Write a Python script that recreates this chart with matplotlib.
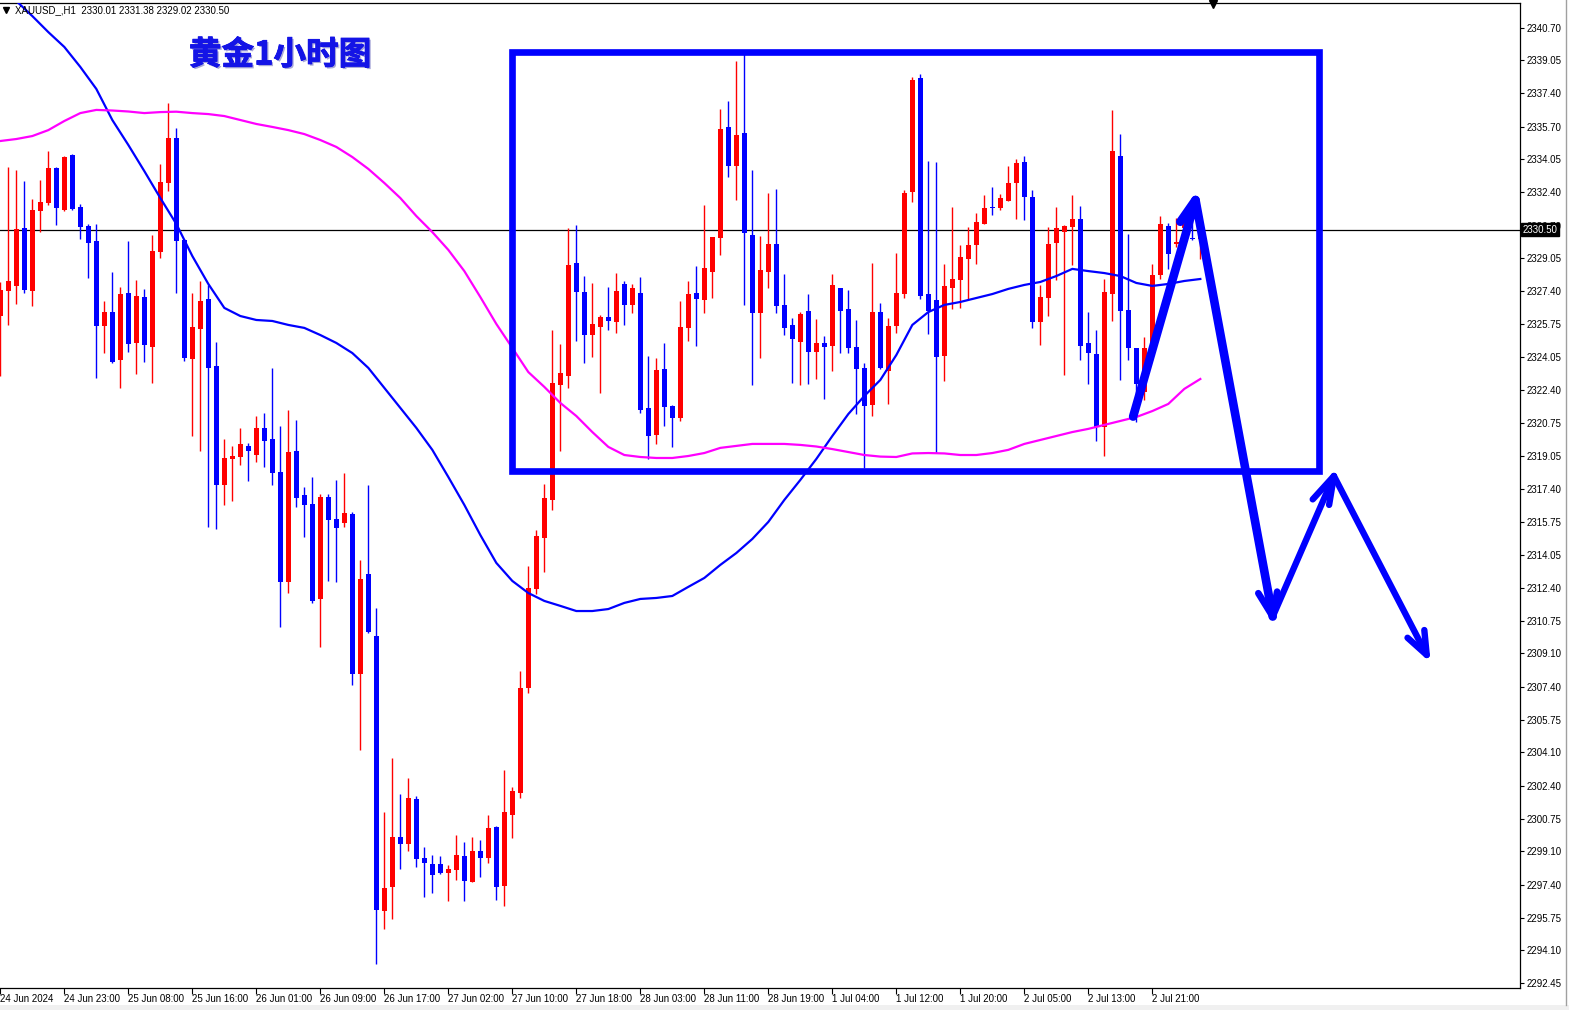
import matplotlib
matplotlib.use("Agg")
import matplotlib.pyplot as plt
import matplotlib.patheffects as pe
from matplotlib.patches import Rectangle
import numpy as np

# ---------------- data (XAUUSD H1) ----------------
opens = [
    2326.14, 2327.40, 2327.66, 2330.59, 2327.40, 2331.44, 2331.85, 2333.62, 2331.50, 2334.27,
    2331.65, 2330.69, 2329.93, 2325.64, 2326.34, 2323.92, 2327.30, 2324.78, 2327.10, 2324.58,
    2329.37, 2332.86, 2335.13, 2329.98, 2323.97, 2325.49, 2327.00, 2323.62, 2317.61, 2318.92,
    2319.02, 2319.58, 2319.12, 2320.49, 2319.93, 2318.26, 2312.71, 2319.32, 2317.10, 2316.65,
    2311.85, 2317.00, 2315.89, 2315.69, 2316.14, 2308.06, 2313.11, 2309.98, 2296.09, 2297.31,
    2299.83, 2299.48, 2301.75, 2298.77, 2298.47, 2298.47, 2298.01, 2298.16, 2298.87, 2297.56,
    2299.12, 2298.77, 2300.34, 2297.36, 2300.94, 2302.05, 2307.36, 2312.35, 2314.93, 2316.85,
    2322.66, 2323.11, 2328.82, 2327.35, 2325.18, 2325.59, 2326.09, 2325.84, 2327.76, 2326.70,
    2327.30, 2321.50, 2320.13, 2323.46, 2321.60, 2320.99, 2325.54, 2327.30, 2326.95, 2328.36,
    2330.08, 2335.69, 2333.72, 2335.38, 2330.23, 2326.29, 2328.36, 2329.78, 2326.70, 2325.69,
    2324.83, 2326.39, 2324.32, 2324.78, 2324.63, 2327.56, 2326.49, 2324.58, 2323.52, 2321.65,
    2326.34, 2323.36, 2325.64, 2327.25, 2332.40, 2338.16, 2327.25, 2326.95, 2324.12, 2327.56,
    2327.96, 2329.02, 2329.73, 2330.79, 2331.65, 2331.60, 2331.95, 2332.86, 2333.92, 2332.15,
    2325.84, 2327.05, 2329.83, 2330.38, 2330.64, 2331.04, 2324.78, 2324.22, 2320.54, 2327.25,
    2334.22, 2326.44, 2324.53, 2322.30, 2324.43, 2328.21, 2330.69, 2329.78, 2330.59, 2330.08,
    2330.01,
]
highs = [
    2327.86, 2333.67, 2333.51, 2332.96, 2332.05, 2333.01, 2334.47, 2333.67, 2334.22, 2334.32,
    2331.80, 2330.79, 2330.79, 2326.90, 2328.36, 2327.61, 2329.93, 2327.96, 2327.51, 2330.23,
    2333.82, 2336.90, 2335.64, 2330.03, 2327.30, 2327.91, 2327.71, 2324.83, 2319.93, 2319.58,
    2320.49, 2319.73, 2321.09, 2321.24, 2323.52, 2320.59, 2321.40, 2320.89, 2317.51, 2318.01,
    2317.15, 2317.15, 2317.86, 2318.21, 2316.24, 2313.82, 2317.61, 2311.40, 2301.09, 2303.82,
    2302.00, 2302.81, 2301.90, 2299.33, 2298.92, 2298.87, 2298.42, 2299.93, 2299.58, 2299.83,
    2299.68, 2300.94, 2300.39, 2303.21, 2302.36, 2308.21, 2313.52, 2315.33, 2317.66, 2325.43,
    2324.73, 2330.59, 2330.74, 2328.16, 2327.81, 2326.19, 2327.61, 2328.31, 2327.91, 2327.76,
    2328.11, 2324.12, 2324.02, 2324.78, 2321.65, 2326.90, 2327.91, 2328.67, 2331.75, 2330.13,
    2336.60, 2337.00, 2339.02, 2339.47, 2333.51, 2330.18, 2332.35, 2332.55, 2328.26, 2326.04,
    2326.34, 2327.25, 2325.99, 2325.13, 2328.26, 2327.56, 2327.45, 2325.94, 2323.77, 2328.82,
    2326.80, 2326.04, 2329.32, 2332.50, 2338.21, 2338.36, 2333.97, 2333.92, 2328.77, 2331.65,
    2329.73, 2330.64, 2331.34, 2332.25, 2332.66, 2332.30, 2333.72, 2334.07, 2334.22, 2332.50,
    2327.71, 2330.64, 2331.65, 2330.74, 2332.25, 2331.70, 2326.34, 2325.43, 2328.01, 2336.54,
    2335.33, 2330.28, 2324.53, 2325.08, 2328.77, 2331.19, 2330.84, 2331.09, 2331.24, 2331.34,
    2331.38,
]
lows = [
    2323.11, 2325.69, 2326.75, 2327.30, 2326.65, 2330.38, 2331.75, 2330.74, 2331.44, 2331.50,
    2330.03, 2328.06, 2323.01, 2324.27, 2323.77, 2322.51, 2324.32, 2323.21, 2323.82, 2322.76,
    2329.07, 2332.45, 2327.30, 2323.87, 2320.08, 2319.32, 2315.49, 2315.39, 2316.60, 2316.80,
    2318.62, 2317.81, 2318.77, 2318.52, 2317.61, 2310.44, 2312.15, 2316.50, 2314.98, 2311.65,
    2309.43, 2312.76, 2312.71, 2315.49, 2307.51, 2304.22, 2310.13, 2293.42, 2295.18, 2295.69,
    2298.21, 2299.12, 2298.31, 2296.80, 2297.00, 2297.96, 2296.60, 2297.66, 2296.60, 2297.56,
    2297.81, 2298.52, 2296.65, 2296.35, 2299.78, 2301.80, 2307.10, 2312.10, 2313.21, 2316.35,
    2319.32, 2322.51, 2324.88, 2323.77, 2324.07, 2322.25, 2325.43, 2325.28, 2325.69, 2326.29,
    2321.24, 2318.92, 2319.68, 2320.59, 2319.53, 2320.84, 2324.88, 2324.63, 2326.29, 2327.05,
    2329.22, 2333.16, 2332.00, 2326.70, 2322.66, 2324.02, 2327.56, 2326.29, 2325.18, 2322.76,
    2322.66, 2322.71, 2322.96, 2321.95, 2323.36, 2324.27, 2324.27, 2321.19, 2318.47, 2321.09,
    2323.46, 2321.70, 2325.28, 2327.05, 2331.90, 2327.00, 2325.23, 2319.22, 2322.86, 2326.50,
    2326.55, 2327.00, 2328.77, 2330.79, 2331.24, 2331.50, 2331.95, 2331.04, 2330.99, 2325.54,
    2324.68, 2326.14, 2327.96, 2323.16, 2328.72, 2323.92, 2322.71, 2319.83, 2319.07, 2325.89,
    2322.91, 2323.92, 2320.79, 2321.90, 2323.92, 2328.01, 2328.51, 2329.63, 2330.18, 2329.98,
    2329.02,
]
closes = [
    2327.45, 2327.91, 2330.54, 2327.45, 2331.50, 2331.90, 2333.62, 2331.60, 2334.17, 2331.55,
    2330.64, 2329.83, 2325.64, 2326.34, 2323.82, 2327.25, 2324.73, 2327.15, 2324.68, 2329.42,
    2332.91, 2335.13, 2329.93, 2324.02, 2325.59, 2326.90, 2323.52, 2317.61, 2318.97, 2319.07,
    2319.68, 2319.32, 2320.49, 2319.83, 2318.21, 2312.71, 2319.27, 2316.95, 2316.60, 2311.75,
    2317.00, 2315.84, 2315.44, 2316.19, 2308.06, 2312.86, 2310.18, 2296.14, 2297.26, 2299.83,
    2299.48, 2301.80, 2298.72, 2298.52, 2297.91, 2298.01, 2298.21, 2298.92, 2297.61, 2299.12,
    2298.77, 2300.29, 2297.31, 2301.09, 2302.15, 2307.36, 2312.41, 2315.03, 2316.95, 2322.76,
    2323.26, 2328.72, 2327.35, 2325.18, 2325.74, 2326.09, 2325.89, 2327.40, 2326.70, 2327.56,
    2321.40, 2320.08, 2323.41, 2321.55, 2320.99, 2325.59, 2327.25, 2327.00, 2328.57, 2330.13,
    2335.59, 2333.72, 2335.28, 2330.33, 2326.29, 2328.46, 2329.78, 2326.65, 2325.54, 2324.98,
    2326.24, 2324.32, 2324.78, 2324.58, 2327.71, 2326.39, 2324.53, 2323.46, 2321.60, 2326.34,
    2323.52, 2325.64, 2327.30, 2332.35, 2338.06, 2327.15, 2326.39, 2324.07, 2327.66, 2328.01,
    2329.12, 2329.73, 2330.89, 2331.60, 2331.60, 2332.10, 2332.86, 2333.87, 2332.15, 2325.84,
    2327.10, 2329.78, 2330.59, 2330.69, 2331.04, 2324.63, 2324.27, 2320.54, 2327.35, 2334.47,
    2326.39, 2324.53, 2322.71, 2324.53, 2328.21, 2330.79, 2329.27, 2329.88, 2330.84, 2330.03,
    2330.50,
]

# moving averages read every 2 bars
ma_bars = list(range(0, 151, 2))
ma_fast = [
    2342.81, 2342.05, 2341.29, 2340.48, 2339.73, 2338.72, 2337.61, 2336.04, 2334.78, 2333.46,
    2332.10, 2330.79, 2329.17, 2327.76, 2326.55, 2326.14, 2325.94, 2325.89, 2325.69, 2325.54,
    2325.18, 2324.78, 2324.27, 2323.52, 2322.51, 2321.50, 2320.49, 2319.38, 2318.01, 2316.60,
    2315.08, 2313.67, 2312.76, 2312.15, 2311.75, 2311.50, 2311.24, 2311.24, 2311.34, 2311.65,
    2311.85, 2311.90, 2312.00, 2312.46, 2312.91, 2313.57, 2314.17, 2314.88, 2315.74, 2316.85,
    2317.86, 2318.92, 2320.08, 2321.19, 2322.10, 2322.91, 2324.17, 2325.69, 2326.34, 2326.70,
    2326.85, 2327.05, 2327.25, 2327.51, 2327.71, 2327.86, 2328.16, 2328.52, 2328.41, 2328.31,
    2328.16, 2327.81, 2327.66, 2327.76, 2327.91, 2328.01,
]
ma_slow = [
    2334.98, 2335.08, 2335.23, 2335.53, 2335.99, 2336.39, 2336.55, 2336.52, 2336.47, 2336.39,
    2336.44, 2336.46, 2336.39, 2336.34, 2336.24, 2336.04, 2335.84, 2335.69, 2335.53, 2335.33,
    2335.03, 2334.68, 2334.17, 2333.57, 2332.86, 2332.10, 2331.19, 2330.38, 2329.48, 2328.41,
    2327.10, 2325.74, 2324.53, 2323.31, 2322.56, 2321.75, 2321.09, 2320.28, 2319.53, 2319.12,
    2319.02, 2318.97, 2318.97, 2319.07, 2319.22, 2319.48, 2319.58, 2319.68, 2319.68, 2319.68,
    2319.63, 2319.55, 2319.42, 2319.27, 2319.12, 2319.04, 2319.02, 2319.20, 2319.22, 2319.20,
    2319.12, 2319.12, 2319.22, 2319.38, 2319.68, 2319.88, 2320.08, 2320.28, 2320.44, 2320.64,
    2320.84, 2321.04, 2321.34, 2321.70, 2322.46, 2322.96,
]

time_labels = [
    "24 Jun 2024", "24 Jun 23:00", "25 Jun 08:00", "25 Jun 16:00", "26 Jun 01:00",
    "26 Jun 09:00", "26 Jun 17:00", "27 Jun 02:00", "27 Jun 10:00", "27 Jun 18:00",
    "28 Jun 03:00", "28 Jun 11:00", "28 Jun 19:00", "1 Jul 04:00", "1 Jul 12:00",
    "1 Jul 20:00", "2 Jul 05:00", "2 Jul 13:00", "2 Jul 21:00",
]
bars_per_label = 8

price_labels = [
    "2340.70", "2339.05", "2337.40", "2335.70", "2334.05", "2332.40", "2330.70", "2329.05",
    "2327.40", "2325.75", "2324.05", "2322.40", "2320.75", "2319.05", "2317.40", "2315.75",
    "2314.05", "2312.40", "2310.75", "2309.10", "2307.40", "2305.75", "2304.10", "2302.40",
    "2300.75", "2299.10", "2297.40", "2295.75", "2294.10", "2292.45",
]

symbol = "XAUUSD_,H1"
last_price = closes[-1]
title = "黄金1小时图"

# hand-drawn annotations (bar index, price)
box = (63.9, 2318.31, 164.8, 2339.49)  # k0, p0, k1, p1
arrow_main = [(141.6, 2321.06), (149.4, 2332.00), (159.05, 2310.96)]
arrow_main_barb = [(147.5, 2330.90), (149.4, 2332.00)]
arrow_low_head = [(157.25, 2312.14), (159.05, 2310.96), (159.6, 2312.22)]
arrow_up = [(159.05, 2310.96), (166.7, 2318.06)]
arrow_up_head = [(164.05, 2316.88), (166.7, 2318.06), (166.1, 2316.60)]
arrow_down = [(166.7, 2318.06), (178.3, 2309.02)]
arrow_down_head = [(175.9, 2309.89), (178.3, 2309.02), (178.0, 2310.28)]

# ---------------- drawing ----------------
W, H = 1569, 1010
fig = plt.figure(figsize=(W / 100, H / 100), dpi=100)
fig.patch.set_facecolor("white")
ax_l, ax_r, ax_t, ax_b = 0, 1520, 3, 988
ax = fig.add_axes([ax_l / W, 1 - ax_b / H, (ax_r - ax_l) / W, (ax_b - ax_t) / H])
ax.set_facecolor("white")

RED = "#FF0000"
BLUE = "#0000FF"
MAG = "#FF00FF"

n = len(opens)
idx = np.arange(n)
o = np.array(opens); c = np.array(closes); h = np.array(highs); l = np.array(lows)
up = c >= o
cols = np.where(up, RED, BLUE)

ax.vlines(idx, l, h, colors=cols, linewidth=1.0, zorder=3)
body_low = np.minimum(o, c)
body_h = np.maximum(np.abs(c - o), 0.06)
ax.bar(idx, body_h, bottom=body_low, width=0.62, color=cols, linewidth=0, zorder=4)

ax.plot(ma_bars, ma_fast, color=BLUE, lw=1.6, zorder=5, solid_joinstyle="round")
ax.plot(ma_bars, ma_slow, color=MAG, lw=1.6, zorder=5, solid_joinstyle="round")

ax.axhline(last_price, color="black", lw=0.9, zorder=2)

ax.set_xlim(-0.04, 189.96)
ax.set_ylim(2292.20, 2341.95)

# axes styling
ax.spines["left"].set_visible(False)
for s in ["top", "right", "bottom"]:
    ax.spines[s].set_color("black")
    ax.spines[s].set_linewidth(0.9)

ax.yaxis.tick_right()
ax.set_yticks([float(s) for s in price_labels])
ax.set_yticklabels(price_labels)
ax.tick_params(axis="y", direction="out", length=3, width=0.8, pad=2,
               labelsize=7, colors="black")
xt = list(range(0, len(time_labels) * bars_per_label, bars_per_label))
ax.set_xticks(xt)
ax.set_xticklabels(time_labels)
ax.tick_params(axis="x", direction="out", length=4, width=0.8, pad=0.5, labelsize=7)
for lbl in ax.get_xticklabels():
    lbl.set_ha("left")
for lbl in ax.get_xticklabels() + ax.get_yticklabels():
    lbl.set_family(["Liberation Sans", "DejaVu Sans"])

# current price box on the axis
ax.text(1.0015, last_price, f"{last_price:.2f}", transform=ax.get_yaxis_transform(),
        ha="left", va="center", fontsize=7, color="white", family=["Liberation Sans"],
        bbox=dict(boxstyle="square,pad=0.15", fc="black", ec="black"),
        zorder=20, clip_on=False)

# annotations
k0, p0, k1, p1 = box
ax.add_patch(Rectangle((k0, p0), k1 - k0, p1 - p0, fill=False, ec=BLUE, lw=4.8,
                       joinstyle="miter", zorder=6, clip_on=False))

def path(pts, lw):
    xs, ys = zip(*pts)
    ax.plot(xs, ys, color=BLUE, lw=lw, solid_capstyle="round",
            solid_joinstyle="round", zorder=7, clip_on=False)

path(arrow_main, 6.2)
path(arrow_main_barb, 6.2)
path(arrow_low_head, 4.8)
path(arrow_up, 4.6)
path(arrow_up_head, 4.6)
path(arrow_down, 4.6)
path(arrow_down_head, 4.6)

# header text
fig.text(15 / W, 1 - 10.5 / H,
         f"{symbol}  {opens[-1]:.2f} {highs[-1]:.2f} {lows[-1]:.2f} {closes[-1]:.2f}",
         fontsize=7, family=["Liberation Sans", "DejaVu Sans"], va="center", ha="left",
         color="black", zorder=30)
fig.lines.append(plt.Line2D([5.5 / W], [1 - 10 / H], marker="v", ms=4.5, color="black",
                            transform=fig.transFigure, linestyle="none"))
fig.lines.append(plt.Line2D([1213 / W], [1 - 4 / H], marker="v", ms=6, color="black",
                            transform=fig.transFigure, linestyle="none"))

# title
fig.text(280 / W, 1 - 55 / H, title, fontsize=23.5, fontweight="bold", color="#1414E6",
         family=["Noto Sans CJK SC", "DejaVu Sans"], ha="center", va="center", zorder=30,
         path_effects=[pe.withSimplePatchShadow(offset=(1.2, -1.2), shadow_rgbFace="#A8A8D8", alpha=1.0),
                       pe.Stroke(linewidth=0.6, foreground="#1414E6"), pe.Normal()])

# window chrome
fig.patches.append(Rectangle((0, 0), 1, 5 / H, transform=fig.transFigure,
                             fc="#F0F0F0", ec="none"))
fig.lines.append(plt.Line2D([1566 / W, 1566 / W], [5 / H, 1], color="#A0A0A0", lw=1,
                            transform=fig.transFigure))

fig.savefig("out.png", dpi=100, facecolor="white")
